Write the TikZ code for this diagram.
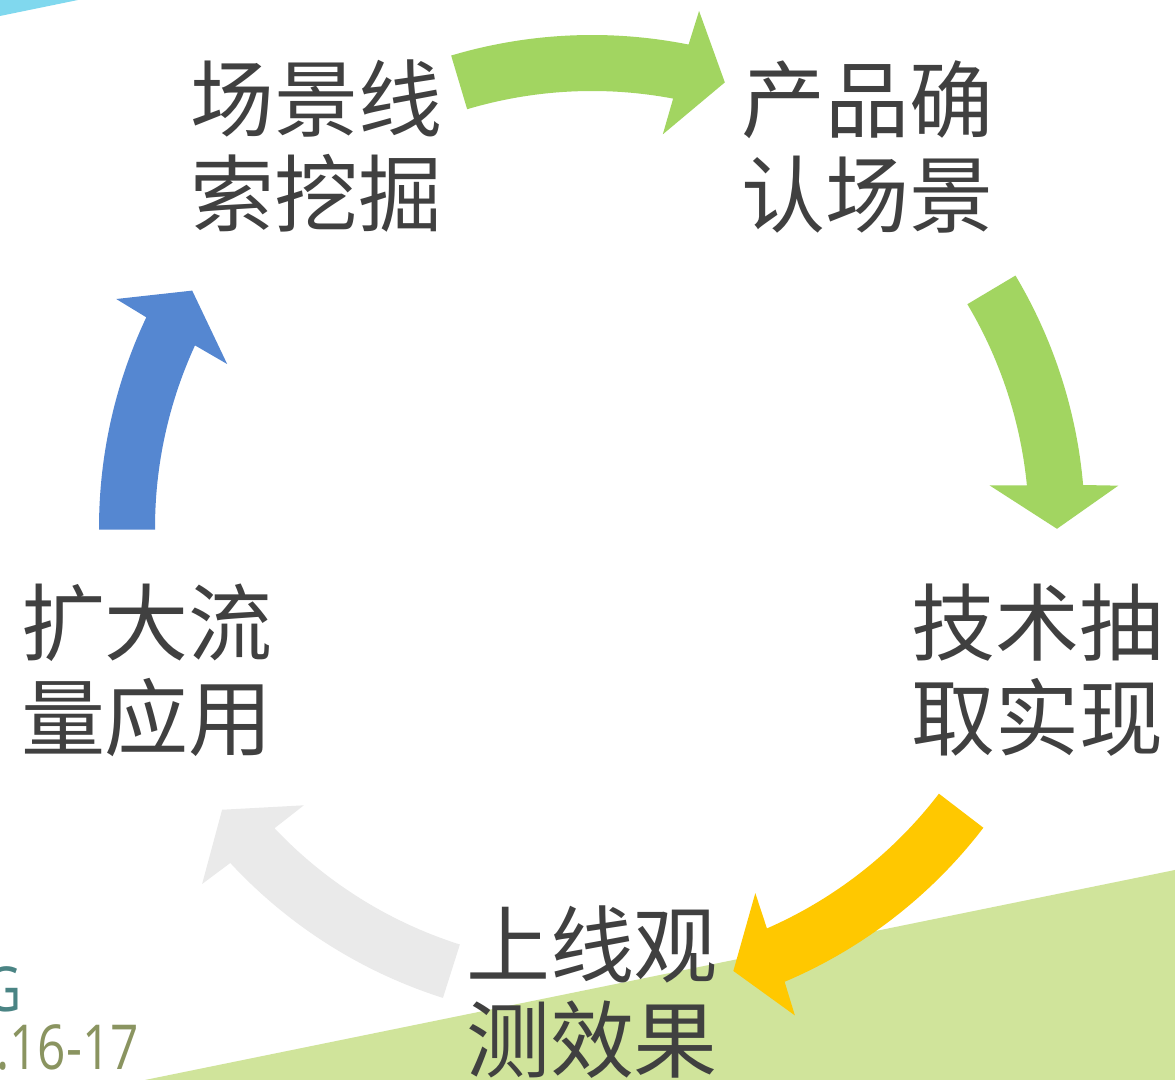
\documentclass[tikz,border=0pt]{standalone}
\usepackage{fontspec}
\newfontfamily\cjk{Noto Sans CJK SC}
\newfontfamily\latinthin{Open Sans}
\usetikzlibrary{calc}
\definecolor{arrgreen}{HTML}{A2D561}
\definecolor{arryellow}{HTML}{FFC800}
\definecolor{arrgray}{HTML}{EAEAEA}
\definecolor{arrblue}{HTML}{5587D1}
\definecolor{bggreen}{HTML}{D0E49B}
\definecolor{cyanbar}{HTML}{80D8EE}
\definecolor{txtgray}{HTML}{404040}
\definecolor{tealtxt}{HTML}{4A8484}
\definecolor{olivetxt}{HTML}{8A9460}
\newcommand\cyclearrow[4]{%
  \fill[#1] ($(C)+(#2:493)$) arc[start angle=#2, end angle={#3-0.3}, radius=493]
    -- ($(C)+({#3-0.7}:528)$) -- ($(C)+(#4:465)$) -- ($(C)+({#3+0.8}:400)$)
    -- ($(C)+({#3+0.3}:437)$) arc[start angle={#3+0.3}, end angle=#2, radius=437] -- cycle;}
\begin{document}
\begin{tikzpicture}[x=0.5pt,y=0.5pt,
  lbl/.style={font=\cjk\fontsize{42}{47.5}\selectfont, text=txtgray, align=center, inner sep=0pt},
  datetxt/.style={font=\latinthin\fontsize{31}{31}\selectfont, inner sep=0pt, xscale=0.8, transform shape}]
\useasboundingbox (0,0) rectangle (1175,1080);
\clip (0,0) rectangle (1175,1080);
\fill[white] (0,0) rectangle (1175,1080);
\coordinate (C) at (592,552);
\fill[bggreen] (145,0) -- (1175,210) -- (1175,0) -- cycle;
\fill[cyanbar] (0,1080) -- (78,1080) -- (0,1064) -- cycle;
\cyclearrow{arrgreen}{106.6}{79}{73.4}
\cyclearrow{arrgreen}{30.8}{5.3}{-0.1}
\cyclearrow{arryellow}{-37.45}{-66.7}{-72.3}
\cyclearrow{arrgray}{-107.6}{-136.9}{-142.7}
\cyclearrow{arrblue}{180.2}{155}{149.3}
\node[lbl] (n1) at (317,933.5) {场景线\\索挖掘};
\node[lbl] (n2) at (867,933.5) {产品确\\认场景};
\node[lbl] (n3) at (1037,410) {技术抽\\取实现};
\node[lbl] (n4) at (592,88) {上线观\\测效果};
\node[lbl] (n5) at (147,410) {扩大流\\量应用};
\node[datetxt, text=tealtxt, anchor=base east] (g) at (22,68) {G};
\node[datetxt, text=olivetxt, anchor=base west] (d) at (-4,10) {.16-17};
\end{tikzpicture}
\end{document}
